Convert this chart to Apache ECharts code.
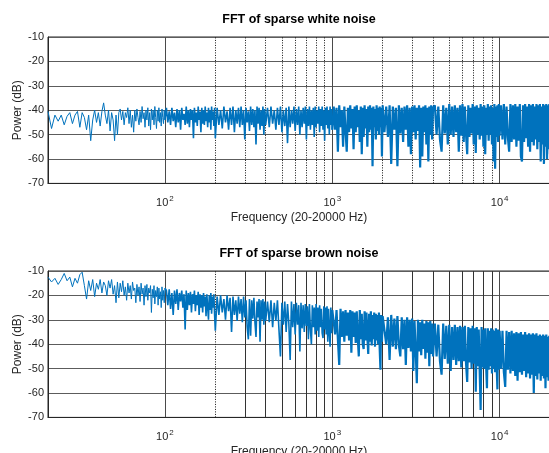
<!DOCTYPE html>
<html><head><meta charset="utf-8">
<script src="https://cdn.jsdelivr.net/npm/echarts@6/dist/echarts.min.js"></script>
<style>html,body{margin:0;padding:0;background:#fff}#c{width:549px;height:453px}</style>
</head><body><div id="c"></div>
<script>
// FFT bin grid: each segment starts at segStart[s] with spacing segStep[s] (Hz)
const segStart = [20, 102, 205, 410, 1020, 2050, 4100, 10200];
const segStep  = [1, 2, 5, 10, 20, 50, 100, 200];

// Power (dB) of sparse white noise, per segment
const whiteDb = [
 [-40.5,-47.5,-42,-44.5,-42,-46,-42.5,-41,-45.5,-42,
  -40.5,-47,-41,-43,-48,-42,-52.5,-44,-40,-45,
  -41,-46.5,-40.5,-37,-42,-45.5,-40,-48.5,-41,-44,
  -52.5,-42,-50,-41,-39.5,-44,-40.5,-46,-41,-43,
  -39,-45.5,-40,-47,-42,-49,-40,-44.5,-39.5,-43,
  -46,-40.5,-45,-38.5,-43.5,-41,-47,-40,-44,-39,
  -46.5,-41,-48,-39.5,-44,-40,-46,-38.5,-43,-47.5,
  -40,-44.5,-39,-45,-41,-46.5,-39.5,-43,-45.5,-40,
  -44],
 [-39,-45,-40.5,-46,-39,-44.5,-41,-47,-39.5,-45,
  -40,-48,-39,-44,-41.5,-46,-38.5,-45.5,-40,-47,
  -39.5,-44,-40,-51.5,-39,-45,-41,-46.5,-38.5,-44,
  -40.5,-49,-39,-45.5,-40,-46,-38.5,-44.5,-41,-47,
  -39,-45,-40,-48,-38.5,-44,-40.5,-46.5,-39,-51.5],
 [-39,-46,-40,-47.5,-38.5,-45,-40.5,-48,-39,-46,
  -38.5,-49,-40,-45.5,-39,-47,-38.5,-46,-40,-52,
  -39,-45,-40.5,-48.5,-38.5,-46,-39.5,-47,-40,-54,
  -38.5,-45.5,-39,-48,-40,-46.5,-38.5,-50,-39.5,-46],
 [-39,-47,-38.5,-45.5,-40,-48,-39,-46,-38.5,-49,
  -40,-46.5,-39,-53.5,-38.5,-47,-40,-45.5,-38.5,-48.5,
  -39.5,-46,-38.5,-50,-40,-47,-39,-45.5,-38.5,-52,
  -39.5,-46.5,-38.5,-48,-40,-46,-39,-51,-38.5,-47,
  -40,-45.5,-38.5,-49,-39.5,-46.5,-38.5,-48,-40,-52.5,
  -39,-46,-38.5,-47.5,-40,-50,-38.5,-46,-39.5,-48],
 [-38.5,-48,-39,-57,-38,-47,-40,-55,-38.5,-48.5,
  -57,-39,-49,-38,-47.5,-39.5,-56,-38.5,-49,-38,
  -47,-40,-53,-38.5,-58,-39,-51,-38,-47.5,-39.5,
  -55,-38.5,-49,-38,-48,-39,-63,-38.5,-47,-39.5,
  -52,-38,-48.5,-39,-50,-38.5,-47,-39,-59,-38],
 [-49,-38.5,-51,-38,-62,-38.5,-48,-39,-63,-38,
  -49.5,-39,-53,-38.5,-48,-38,-55,-39,-58,-38.5,
  -49,-38,-52,-39,-48.5,-38,-63.5,-39,-59,-38.5,
  -49,-38,-54,-39,-61,-38.5,-50,-38,-52,-39],
 [-38,-50,-38.5,-52,-57,-38,-49.5,-39,-54,-37.5,
  -50,-38.5,-51,-38,-49,-39,-57,-38,-50.5,-37.5,
  -53,-38.5,-50,-58,-38,-51,-39,-49.5,-37.5,-54,
  -38.5,-57.5,-38,-50,-39,-52,-37.5,-50.5,-38.5,-55,
  -38,-58,-39,-50,-37.5,-52.5,-38.5,-50,-38,-54,
  -39,-61,-37.5,-64,-38.5,-51,-38,-53,-37.5,-50.5],
 [-38,-52,-37.5,-54,-38.5,-51,-57,-37.5,-53,-38,
  -52,-37.5,-55,-38.5,-52.5,-37.5,-59,-61,-38,-53,
  -37.5,-51.5,-38.5,-55,-37.5,-57,-38,-53,-37.5,-54.5,
  -38.5,-52,-37.5,-56,-38,-53,-37.5,-61,-38.5,-54,
  -37.5,-62,-38,-55,-37.5,-60,-38,-56,-37.5,-58]
];

// Power (dB) of sparse brown noise, per segment
const brownDb = [
 [-12.5,-14.5,-13,-15.5,-13.5,-11,-14,-12.5,-16.5,-13,
  -15,-11.5,-10.5,-16,-21.5,-14,-18,-13.5,-20.5,-15,
  -17.5,-13.5,-19,-14.5,-16,-20,-14,-17,-13.5,-19.5,
  -16,-23,-14.5,-21,-15,-18.5,-14,-20,-16.5,-22,
  -15,-19,-16,-21.5,-14.5,-18,-17,-23,-15.5,-20,
  -16.5,-22.5,-15,-19.5,-17,-24,-16,-20.5,-15.5,-22,
  -17,-19,-16,-27,-17.5,-21,-16,-23.5,-18,-20.5,
  -16.5,-24,-17,-21.5,-18.5,-25,-16.5,-22,-18,-23,
  -17],
 [-18,-24,-17.5,-25.5,-19,-28,-18,-23.5,-17.5,-26,
  -19,-22.5,-18,-25,-19.5,-34,-18,-26,-19,-24,
  -18.5,-27,-19.5,-23.5,-18,-26.5,-20,-24,-18.5,-28,
  -19.5,-25,-20,-27,-19,-24.5,-20.5,-28.5,-19.5,-25,
  -30,-20,-26,-19,-27.5,-20.5,-25,-19.5,-28,-34.5],
 [-20.5,-28,-20,-27,-21.5,-30,-20,-26.5,-21,-35,
  -20.5,-28,-22,-30.5,-20.5,-27.5,-21.5,-31,-20.5,-29,
  -22,-33,-38,-21.5,-36.5,-22,-29.5,-21,-31,-37,
  -22.5,-29,-21.5,-39,-22,-30,-21.5,-32,-22.5,-30.5],
 [-22.5,-31,-22,-33,-23,-30.5,-22,-34,-45,-23,
  -32,-22.5,-35,-23.5,-31.5,-46.5,-22.5,-33,-23.5,-36,
  -23,-32,-24,-43,-23,-33.5,-24,-35,-23.5,-32.5,
  -24.5,-38,-23.5,-34,-40,-24,-33,-25,-36,-23.5,
  -34.5,-25,-37,-24,-33,-25.5,-35.5,-37.5,-24.5,-34,
  -25,-36,-24.5,-39,-25.5,-34.5,-41,-25,-35.5,-26],
 [-25.5,-36,-26,-38,-48.5,-25.5,-37,-26.5,-39,-26,
  -36.5,-27,-38.5,-26,-43.5,-26.5,-37,-27,-39.5,-26.5,
  -37.5,-45,-26,-38,-27.5,-40,-42,-26.5,-38.5,-27,
  -37,-44,-27.5,-39,-26.5,-40.5,-28,-38,-27,-41,
  -27.5,-38.5,-28,-40,-27,-42,-50.5,-28,-39,-28.5],
 [-28.5,-40,-29,-46.5,-28,-41,-29.5,-42,-28.5,-40.5,
  -45,-29,-42,-30,-48.5,-29,-41.5,-30,-43,-29.5,
  -51,-30.5,-42.5,-56,-30,-43,-31,-44.5,-30,-42,
  -31.5,-46,-30.5,-43.5,-31,-49,-30.5,-44,-31.5,-45],
 [-31.5,-45,-32,-47,-52.5,-31.5,-46,-32.5,-48,-32,
  -51,-33,-46.5,-32,-48.5,-33,-47,-32.5,-49.5,-33,
  -47,-32.5,-48,-55.5,-33,-47.5,-33.5,-50,-32.5,-48,
  -33.5,-59.5,-33,-49,-34,-51,-67,-33,-49.5,-34,
  -50,-33.5,-48.5,-58,-33.5,-50.5,-34.5,-49,-33.5,-52,
  -34,-50,-34.5,-51.5,-33.5,-49,-58.5,-34,-50.5,-34.5],
 [-50,-34.5,-51.5,-57.5,-34.5,-50.5,-35,-52,-34.5,-51,
  -35.5,-53,-35,-55,-35.5,-51.5,-35,-52.5,-36,-51,
  -35,-53.5,-36,-52,-35.5,-54,-36,-52.5,-35.5,-60,
  -36,-53,-35.5,-54.5,-36.5,-52,-36,-55,-36.5,-53,
  -36,-54,-36.5,-58,-36,-53.5,-37,-55,-36.5,-54]
];

// minor (2..9 x decade) grid frequencies
const minorGrid = [200,300,400,500,600,700,800,900,2000,3000,4000,5000,6000,7000,8000,9000];
const titles = ['FFT of sparse white noise', 'FFT of sparse brown noise'];
const xName = 'Frequency (20-20000 Hz)';
const yName = 'Power (dB)';

const FONT = "'Liberation Sans', Arial, Helvetica, sans-serif";
const TXT = '#262626';
const BLUE = '#0072BD';

// line drawn in tiers (same colour) so the densely packed high-frequency bins render as a solid band
const tiers = [{segs: [0], width: 1}, {segs: [1, 2, 3], width: 1.6}, {segs: [4, 5, 6, 7], width: 2.2}];

function buildTier(segs, tier) {
  const out = [];
  const first = tier.segs[0];
  if (first > 0) {
    const prev = segs[first - 1];
    out.push([segStart[first - 1] + (prev.length - 1) * segStep[first - 1], prev[prev.length - 1]]);
  }
  tier.segs.forEach(s => segs[s].forEach((v, i) => out.push([segStart[s] + i * segStep[s], v])));
  return out;
}

const gridTops = [37, 271];
const chart = echarts.init(document.getElementById('c'), null, {renderer: 'canvas'});

function xAxis(gi) {
  return {
    type: 'log', logBase: 10, min: 20, max: 20000, gridIndex: gi,
    axisLine: {show: true, onZero: false, lineStyle: {color: TXT, width: 1}},
    axisTick: {show: false},
    splitLine: {show: true, lineStyle: {color: '#4a4a4a', width: 1}},
    axisLabel: {
      margin: 11, color: TXT,
      formatter: function (v) {
        const e = Math.round(Math.log10(v));
        const p = Math.pow(10, e);
        if (Math.abs(v - p) / p > 1e-6) return '';
        return '{b|10}{s|' + e + '}';
      },
      rich: {
        b: {fontSize: 11, fontFamily: FONT, color: TXT, lineHeight: 14, verticalAlign: 'bottom'},
        s: {fontSize: 8, fontFamily: FONT, color: TXT, lineHeight: 8, verticalAlign: 'top', padding: [0, 0, 0, 1]}
      }
    },
    name: xName, nameLocation: 'middle', nameGap: 28, nameMoveOverlap: false,
    nameTextStyle: {fontSize: 12, fontFamily: FONT, color: TXT}
  };
}
function yAxis(gi) {
  return {
    type: 'value', min: -70, max: -10, interval: 10, gridIndex: gi,
    axisLine: {show: true, lineStyle: {color: TXT, width: 1}},
    axisTick: {show: false},
    splitLine: {show: true, lineStyle: {color: '#5c5c5c', width: 1}},
    axisLabel: {fontSize: 11, fontFamily: FONT, color: TXT, margin: 4},
    name: yName, nameLocation: 'middle', nameGap: 24, nameRotate: 90, nameMoveOverlap: false,
    nameTextStyle: {fontSize: 12, fontFamily: FONT, color: TXT}
  };
}

const topMinorStyle = {color: '#111', type: [1, 1.5], width: 1};
const botMinorSolid = {color: '#333', type: 'solid', width: 1};

function gridSeries(gi) {
  return {
    type: 'line', xAxisIndex: gi, yAxisIndex: gi, data: [], z: 1, silent: true,
    markLine: {
      silent: true, symbol: ['none', 'none'], animation: false,
      label: {show: false},
      lineStyle: gi === 0 ? topMinorStyle : botMinorSolid,
      data: minorGrid.map(f => ({
        xAxis: f,
        lineStyle: (gi === 0 || f === 200) ? topMinorStyle : botMinorSolid
      }))
    }
  };
}
function dataSeries(gi, segs) {
  return tiers.map(t => ({
    type: 'line', xAxisIndex: gi, yAxisIndex: gi, data: buildTier(segs, t), z: 5,
    showSymbol: false, symbol: 'none', sampling: null, silent: true,
    lineStyle: {color: BLUE, width: t.width, join: 'bevel'}, clip: true
  }));
}

chart.setOption({
  animation: false,
  backgroundColor: '#fff',
  grid: gridTops.map(t => ({
    left: 48, top: t, width: 502, height: 146.4, outerBoundsMode: 'none', containLabel: false,
    show: true, borderColor: TXT, borderWidth: 1, backgroundColor: '#fff'
  })),
  xAxis: [xAxis(0), xAxis(1)],
  yAxis: [yAxis(0), yAxis(1)],
  graphic: titles.map((t, i) => ({
    type: 'text', x: 299, y: gridTops[i] - 17,
    style: {text: t, textAlign: 'center', textVerticalAlign: 'middle',
            font: 'bold 12.5px ' + FONT, fill: '#000'}
  })),
  series: [gridSeries(0), gridSeries(1)].concat(dataSeries(0, whiteDb), dataSeries(1, brownDb))
});
</script>
</body></html>
